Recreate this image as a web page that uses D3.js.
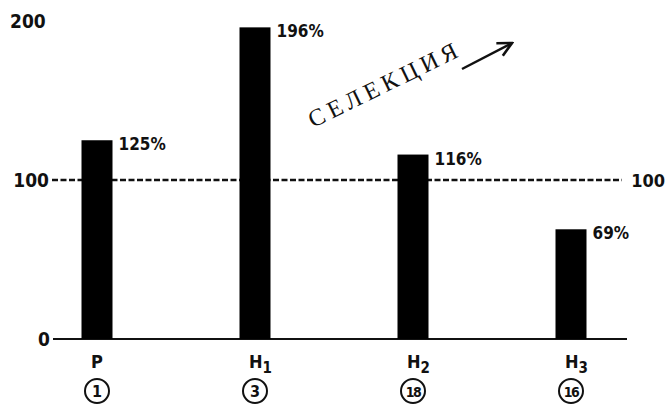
<!DOCTYPE html>
<html>
<head>
<meta charset="utf-8">
<script src="https://cdn.jsdelivr.net/npm/d3@7"></script>
<style>
  body { margin: 0; background: #fff; }
  text { font-family: "DejaVu Sans Condensed", "DejaVu Sans", sans-serif; font-stretch: condensed; font-weight: bold; fill: #111; }
</style>
</head>
<body>
<svg id="chart" width="669" height="408"></svg>
<script>
var groups = ["P", "H1", "H2", "H3"];
var subs = ["", "1", "2", "3"];
var values = [125, 196, 116, 69];
var counts = ["1", "3", "18", "16"];
var yTicks = [0, 100, 200];

var svg = d3.select('#chart');

var x = d3.scalePoint()
	.domain(groups)
	.range([97, 571]);

var y = d3.scaleLinear()
	.domain([0, 200])
	.range([339, 21]);

var barW = 31;

// baseline
svg.append('line')
	.attr('x1', 53).attr('x2', 627)
	.attr('y1', y(0)).attr('y2', y(0))
	.attr('stroke', '#111').attr('stroke-width', 2);

// 100 reference line
svg.append('line')
	.attr('x1', 52).attr('x2', 622)
	.attr('y1', y(100)).attr('y2', y(100))
	.attr('stroke', '#111').attr('stroke-width', 2.5)
	.attr('stroke-dasharray', '6,2.5');

// y labels
svg.selectAll('text.ytick')
	.data(yTicks)
	.enter()
	.append('text')
	.attr('class', 'ytick')
	.attr('x', function (d) { return d === 200 ? 10 : (d === 100 ? 49 : 50); })
	.attr('y', function (d) { return y(d) + 7; })
	.attr('text-anchor', function (d) { return d === 200 ? 'start' : 'end'; })
	.attr('font-size', 19)
	.text(function (d) { return d; });

svg.append('text')
	.attr('x', 665).attr('y', y(100) + 7)
	.attr('text-anchor', 'end')
	.attr('font-size', 18)
	.text('100');

// bars
svg.selectAll('rect.bar')
	.data(values)
	.enter()
	.append('rect')
	.attr('class', 'bar')
	.attr('x', function (d, i) { return x(groups[i]) - barW / 2; })
	.attr('y', function (d) { return y(d); })
	.attr('width', barW)
	.attr('height', function (d) { return y(0) - y(d); })
	.attr('fill', '#000');

// value labels
svg.selectAll('text.val')
	.data(values)
	.enter()
	.append('text')
	.attr('class', 'val')
	.attr('x', function (d, i) { return x(groups[i]) + barW / 2 + 6; })
	.attr('y', function (d) { return y(d) + 10; })
	.attr('font-size', 17)
	.text(function (d) { return d + '%'; });

// group labels
var lab = svg.selectAll('text.grp')
	.data(groups)
	.enter()
	.append('text')
	.attr('class', 'grp')
	.attr('x', function (d) { return x(d) - 6; })
	.attr('y', 368)
	.attr('font-size', 18);
lab.append('tspan').text(function (d) { return d.charAt(0); });
lab.append('tspan')
	.attr('dy', 5)
	.attr('font-size', 15)
	.text(function (d, i) { return subs[i]; });

// circled counts
var circ = svg.selectAll('g.cnt')
	.data(counts)
	.enter()
	.append('g')
	.attr('class', 'cnt')
	.attr('transform', function (d, i) { return 'translate(' + x(groups[i]) + ',391)'; });
circ.append('circle')
	.attr('r', 12)
	.attr('fill', 'none')
	.attr('stroke', '#111')
	.attr('stroke-width', 2);
circ.append('text')
	.attr('text-anchor', 'middle')
	.attr('y', 6)
	.attr('font-size', function (d) { return d.length > 1 ? 14 : 16; })
	.attr('letter-spacing', function (d) { return d.length > 1 ? -1.5 : 0; })
	.text(function (d) { return d; });

// selection annotation
svg.append('text')
	.attr('transform', 'translate(313,128) rotate(-26)')
	.attr('font-size', 24)
	.attr('letter-spacing', 5)
	.style('font-weight', 'normal')
	.style('font-stretch', 'normal')
	.style('font-family', '"Liberation Serif", "DejaVu Serif", serif')
	.text('СЕЛЕКЦИЯ');

svg.append('defs').append('marker')
	.attr('id', 'arr')
	.attr('viewBox', '0 0 10 10')
	.attr('refX', 9).attr('refY', 5)
	.attr('markerWidth', 7).attr('markerHeight', 7)
	.attr('orient', 'auto')
	.append('path')
	.attr('d', 'M1,1 L9,5 L1,9')
	.attr('fill', 'none')
	.attr('stroke', '#111')
	.attr('stroke-width', 1.5);

svg.append('line')
	.attr('x1', 462).attr('y1', 69)
	.attr('x2', 512).attr('y2', 43)
	.attr('stroke', '#111').attr('stroke-width', 2.5)
	.attr('marker-end', 'url(#arr)');
</script>
</body>
</html>
